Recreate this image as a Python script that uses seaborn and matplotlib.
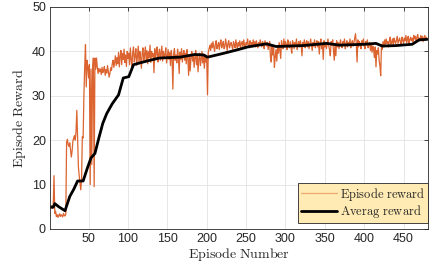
import numpy as np
import pandas as pd
import matplotlib
matplotlib.use("Agg")
import matplotlib.pyplot as plt
import seaborn as sns

# episode reward, one value per episode (1..480)
episode_reward = [
    5.0, 4.8, 5.2, 4.6, 5.0, 12.0, 3.5, 4.0, 2.8, 3.2, 2.6, 3.0, 3.4, 2.8, 3.2, 3.0, 2.7, 3.5, 3.1, 2.9,
    3.3, 19.5, 20.2, 19.0, 18.6, 19.4, 17.8, 16.2, 17.5, 19.8, 20.5, 21.0, 20.0, 22.0, 26.7, 20.5, 14.0, 12.0, 10.5, 8.8,
    11.0, 20.8, 20.5, 30.0, 36.5, 41.5, 32.0, 38.0, 36.5, 34.0, 37.0, 10.0, 36.0, 14.5, 35.5, 38.5, 9.5, 38.5, 36.0, 38.5,
    36.5, 35.0, 36.2, 35.4, 36.0, 34.8, 36.4, 35.2, 35.8, 36.6, 34.6, 35.9, 35.1, 36.8, 35.5, 34.2, 35.0, 36.3, 35.7, 37.2,
    38.0, 36.4, 37.5, 39.0, 36.8, 38.6, 37.2, 39.8, 36.5, 38.8, 40.2, 37.0, 39.5, 38.2, 40.5, 37.5, 39.2, 36.6, 40.0, 38.4,
    39.6, 37.0, 40.8, 38.2, 36.5, 39.8, 41.0, 37.6, 39.0, 40.6, 36.9, 38.8, 41.2, 37.4, 40.0, 38.5, 36.2, 39.6, 40.8, 37.8,
    39.2, 41.0, 38.0, 40.2, 37.2, 39.9, 38.6, 41.4, 37.5, 40.0, 38.8, 39.5, 35.2, 40.6, 38.2, 39.8, 41.0, 37.6, 39.4, 40.5,
    38.0, 39.6, 41.2, 37.8, 40.0, 38.6, 39.2, 40.8, 37.4, 39.0, 40.4, 38.2, 39.7, 36.8, 40.2, 38.5, 31.5, 39.5, 40.6, 38.0,
    39.2, 37.4, 40.5, 38.8, 35.0, 39.8, 38.2, 40.6, 37.6, 39.4, 40.2, 38.0, 39.6, 37.2, 40.4, 38.6, 34.6, 39.2, 35.6, 38.8,
    40.0, 37.8, 39.4, 36.4, 38.6, 40.2, 37.0, 39.0, 35.4, 38.4, 39.6, 36.8, 38.2, 40.0, 37.4, 38.8, 36.2, 39.2, 37.6, 38.4,
    30.2, 39.8, 40.6, 41.4, 40.2, 41.8, 40.8, 42.2, 41.0, 40.0, 41.6, 42.4, 40.6, 41.2, 42.0, 40.4, 41.8, 42.6, 40.8, 41.4,
    42.2, 40.6, 41.0, 42.8, 41.6, 40.2, 41.8, 42.4, 40.8, 41.6, 42.0, 41.2, 40.4, 42.2, 41.6, 40.8, 42.6, 41.4, 40.6, 42.0,
    41.2, 42.4, 40.8, 41.8, 42.2, 41.0, 42.6, 41.4, 40.6, 42.0, 41.6, 42.8, 41.2, 40.8, 42.4, 41.6, 42.0, 41.0, 42.6, 41.4,
    42.2, 41.0, 42.4, 41.6, 40.8, 42.0, 41.4, 42.6, 41.8, 41.0, 42.2, 41.6, 40.6, 42.4, 41.8, 41.2, 42.0, 40.4, 41.6, 42.2,
    38.6, 37.6, 41.4, 39.2, 40.8, 36.4, 38.8, 40.4, 37.8, 41.0, 39.6, 42.0, 40.2, 38.4, 42.4, 41.2, 40.6, 42.8, 41.0, 42.2,
    41.6, 40.4, 42.6, 41.4, 40.8, 42.2, 41.0, 39.6, 42.4, 41.8, 40.6, 42.0, 41.2, 42.8, 40.4, 41.6, 42.2, 41.0, 42.4, 41.4,
    39.0, 42.0, 41.2, 42.6, 40.8, 41.8, 42.4, 41.0, 42.2, 40.6, 41.6, 42.8, 41.4, 40.2, 42.0, 41.2, 42.6, 40.8, 41.8, 42.4,
    41.0, 42.2, 39.4, 41.6, 42.8, 40.6, 41.8, 38.2, 42.4, 41.0, 42.0, 40.6, 41.6, 42.8, 41.2, 40.4, 39.0, 42.2, 41.4, 42.6,
    40.2, 38.0, 41.8, 39.0, 42.4, 41.0, 42.0, 40.6, 41.8, 42.6, 41.2, 40.8, 42.2, 41.4, 42.8, 40.6, 41.6, 42.4, 41.0, 42.0,
    41.4, 42.8, 40.8, 41.8, 42.4, 41.2, 42.0, 43.0, 44.0, 41.6, 37.6, 42.6, 41.0, 42.2, 41.6, 40.6, 42.4, 41.8, 42.8, 41.2,
    40.6, 42.2, 41.4, 42.6, 40.8, 41.6, 42.0, 40.2, 41.8, 39.8, 41.2, 40.4, 38.6, 41.0, 36.5, 40.2, 39.4, 40.8, 38.0, 36.8,
    34.5, 41.6, 40.4, 42.2, 41.0, 42.6, 41.4, 42.8, 41.8, 42.2, 41.0, 42.4, 43.2, 41.6, 42.0, 42.8, 41.4, 43.0, 42.2, 41.8,
    42.6, 43.4, 41.8, 42.4, 43.0, 42.2, 41.6, 43.2, 42.6, 41.8, 43.0, 42.4, 43.6, 42.0, 42.8, 43.4, 41.8, 42.6, 43.2, 42.4,
    43.0, 42.2, 43.6, 42.8, 43.4, 42.0, 43.2, 43.8, 42.6, 43.0, 42.4, 43.6, 42.8, 43.4, 42.2, 43.0, 43.6, 42.8, 43.2, 42.8,
]
episodes = list(range(1, len(episode_reward) + 1))

# average reward, read at the corners of the black line
avg_episodes = [1, 5, 7, 12, 20, 26, 31, 36, 43, 48, 53, 58, 63, 68, 73, 80, 88, 94, 101, 107,
                115, 128, 140, 166, 185, 196, 201, 220, 240, 252, 276, 288, 322, 352, 369, 400,
                415, 423, 440, 461, 470, 480]
avg_reward = [4.9, 4.9, 5.7, 5.0, 4.1, 7.3, 8.9, 10.8, 10.8, 13.5, 16.0, 17.0, 20.5, 23.8, 26.0, 28.2,
              30.2, 34.0, 34.3, 37.0, 37.4, 38.0, 38.5, 38.7, 39.3, 39.2, 38.7, 39.5, 40.4, 41.0,
              41.7, 41.1, 41.3, 41.8, 41.4, 41.6, 41.8, 41.2, 41.3, 41.6, 42.6, 42.7]

x_ticks = [50, 100, 150, 200, 250, 300, 350, 400, 450]
y_ticks = [0, 10, 20, 30, 40, 50]

ep_df = pd.DataFrame({"Episode": episodes, "Reward": episode_reward})
avg_df = pd.DataFrame({"Episode": avg_episodes, "Reward": avg_reward})

sns.set_style("white")
plt.rcParams["font.family"] = ["Liberation Sans", "DejaVu Sans"]
plt.rcParams["mathtext.fontset"] = "cm"

fig = plt.figure(figsize=(4.43, 2.69), dpi=100)
ax = fig.add_axes([0.113, 0.149, 0.853, 0.825])

sns.lineplot(data=ep_df, x="Episode", y="Reward", ax=ax, color="#D95319", alpha=0.9,
             linewidth=0.9, label=r"$\mathrm{Episode\ reward}$")
sns.lineplot(data=avg_df, x="Episode", y="Reward", ax=ax, color="black",
             linewidth=2.0, label=r"$\mathrm{Averag\ reward}$")

ax.set_xlim(1, 481)
ax.set_ylim(0, 50)
ax.set_xticks(x_ticks)
ax.set_yticks(y_ticks)
ax.grid(True, color="#e3e3e3", linewidth=0.6)
ax.set_axisbelow(True)
ax.tick_params(direction="in", length=3, width=0.6, colors="#262626",
               labelsize=9, top=True, right=True, pad=3)
for sp in ax.spines.values():
    sp.set_color("#262626")
    sp.set_linewidth(0.6)

ax.set_xlabel(r"$\mathrm{Episode\ Number}$", fontsize=10, color="#262626", labelpad=1)
ax.set_ylabel(r"$\mathrm{Episode\ Reward}$", fontsize=10, color="#262626", labelpad=3)

leg = ax.legend(loc="lower right", bbox_to_anchor=(1.0, 0.027), fontsize=9, frameon=True,
                fancybox=False, facecolor="#FFEBB3", edgecolor="#262626", framealpha=1.0,
                handlelength=2.9, handletextpad=0.25, borderpad=0.2, labelspacing=0.05,
                borderaxespad=0.0)
leg.get_frame().set_linewidth(0.6)
leg.get_lines()[0].set_color("#F0A06E")

fig.savefig("out.png", dpi=100)
